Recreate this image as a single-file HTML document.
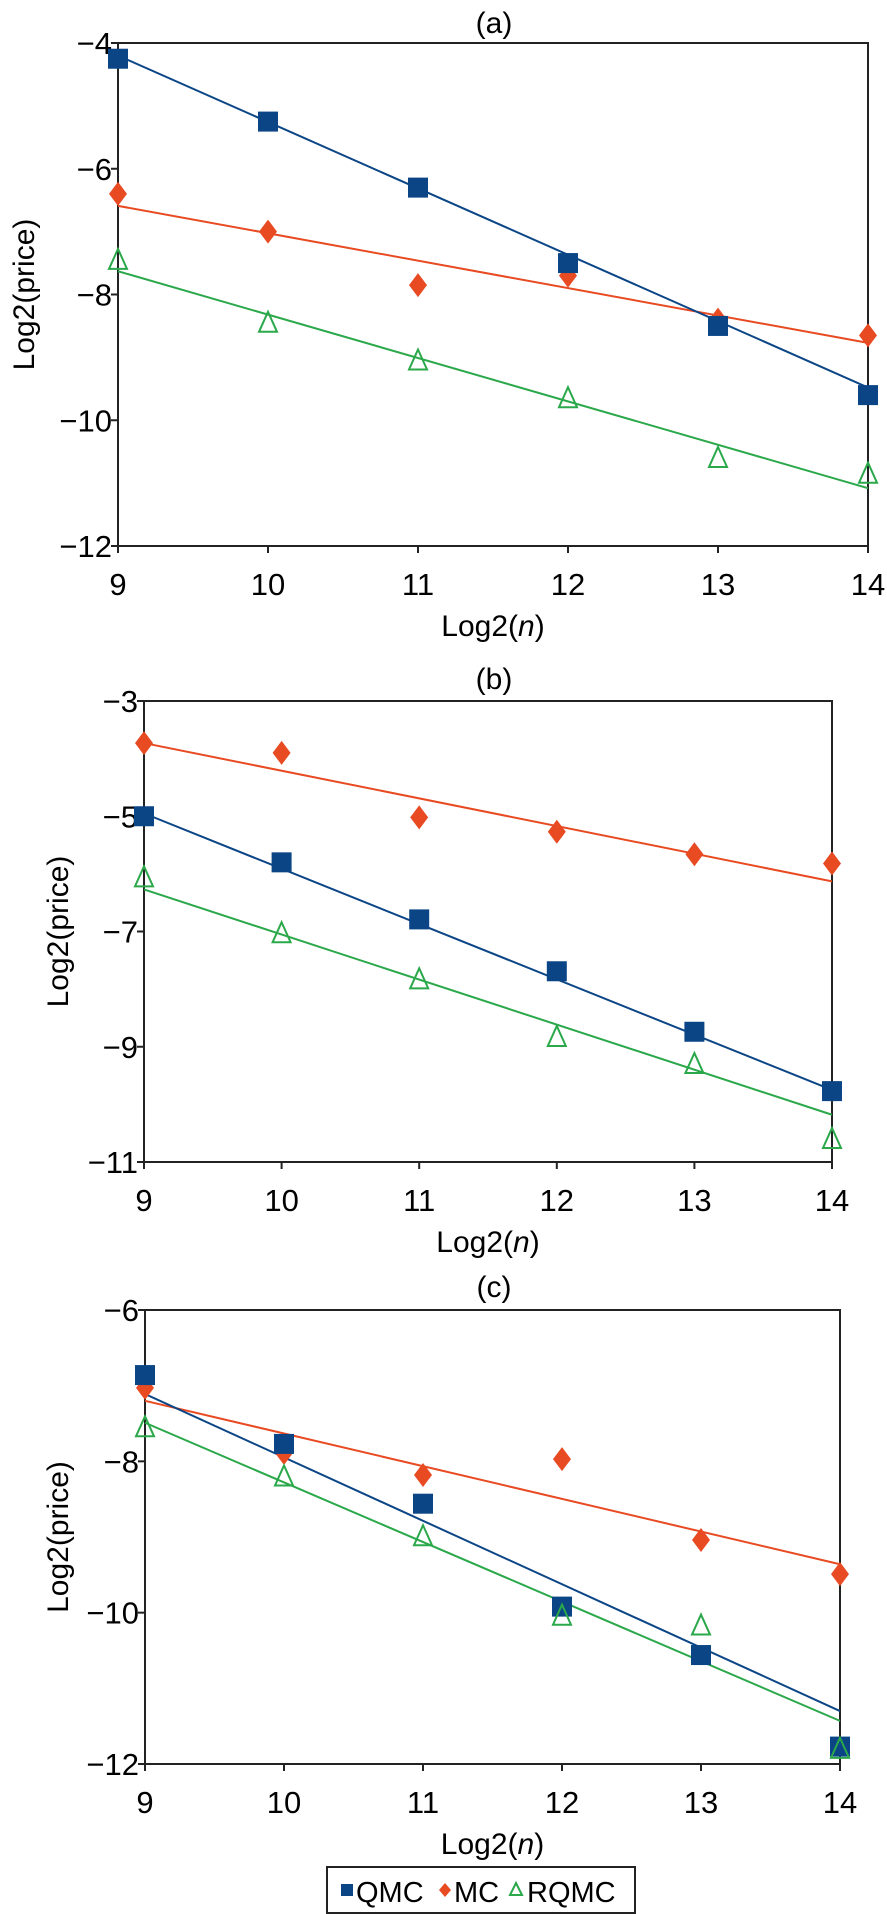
<!DOCTYPE html>
<html><head><meta charset="utf-8"><style>
html,body{margin:0;padding:0;background:#fff;}
svg{display:block;font-family:"Liberation Sans",sans-serif;}
.n{font-family:"Liberation Sans Narrow","Liberation Sans",sans-serif;}
</style></head><body>
<svg id="s" width="887" height="1914" viewBox="0 0 887 1914" xmlns="http://www.w3.org/2000/svg"></svg>
<script>
const B='#0b4586',O='#e84a22',G='#2aa84a';
let h='';
function panel(p){
 const X=v=>p.x0+(v-9)*(p.x1-p.x0)/5;
 const Y=v=>p.y0+(p.ymax-v)*(p.y1-p.y0)/(p.ymax-p.ymin);
 const cl=p.narrow?'n':'';
 h+=`<text class="${cl}" x="494" y="${p.ty}" font-size="30" text-anchor="middle">${p.t}</text>`;
 h+=`<rect x="${p.x0}" y="${p.y0}" width="${p.x1-p.x0}" height="${p.y1-p.y0}" fill="none" stroke="#222" stroke-width="2"/>`;
 for(let v=p.ymin;v<=p.ymax;v+=2){const y=Y(v);
  h+=`<line x1="${p.x0-7}" x2="${p.x0}" y1="${y}" y2="${y}" stroke="#222" stroke-width="2"/>`;
  h+=`<text class="${cl}" x="${p.x0-6}" y="${y+11}" font-size="31" text-anchor="end">\u2212${-v}</text>`;}
 for(let v=9;v<=14;v++){const x=X(v);
  h+=`<line x1="${x}" x2="${x}" y1="${p.y1}" y2="${p.y1+7}" stroke="#222" stroke-width="2"/>`;
  h+=`<text class="${cl}" x="${x}" y="${p.y1+49}" font-size="31" text-anchor="middle">${v}</text>`;}
 h+=`<text class="${cl}" x="${(p.x0+p.x1)/2}" y="${p.y1+90}" font-size="30" text-anchor="middle">Log2(<tspan font-style="italic">n</tspan>)</text>`;
 const cy=(p.y0+p.y1)/2;
 h+=`<text transform="translate(${p.lx},${cy}) rotate(-90)" font-size="30" text-anchor="middle">Log2(price)</text>`;
 const lines=[[p.gl,G],[p.ol,O],[p.bl,B]];
 for(const [l,c] of lines) h+=`<line x1="${X(9)}" y1="${Y(l[0])}" x2="${X(14)}" y2="${Y(l[1])}" stroke="${c}" stroke-width="2"/>`;
 p.o.forEach((v,i)=>{const x=X(9+i),y=Y(v);h+=`<polygon points="${x},${y-12} ${x+9},${y} ${x},${y+12} ${x-9},${y}" fill="${O}"/>`;});
 p.b.forEach((v,i)=>{const x=X(9+i),y=Y(v);h+=`<rect x="${x-10}" y="${y-10}" width="20" height="20" fill="${B}"/>`;});
 p.g.forEach((v,i)=>{const x=X(9+i),y=Y(v);h+=`<polygon points="${x},${y-11} ${x+9},${y+9} ${x-9},${y+9}" fill="none" stroke="${G}" stroke-width="2"/>`;});
}
panel({t:'(a)',ty:33,narrow:true,x0:118,x1:868,y0:43,y1:546,ymin:-12,ymax:-4,lx:34,
 b:[-4.25,-5.25,-6.3,-7.5,-8.5,-9.6],bl:[-4.2,-9.48],
 o:[-6.4,-7.0,-7.85,-7.7,-8.4,-8.65],ol:[-6.59,-8.77],
 g:[-7.45,-8.45,-9.05,-9.65,-10.6,-10.85],gl:[-7.63,-11.08]});
panel({t:'(b)',ty:689,narrow:true,x0:144,x1:832,y0:701,y1:1162,ymin:-11,ymax:-3,lx:68,
 b:[-5.0,-5.8,-6.79,-7.69,-8.74,-9.77],bl:[-4.95,-9.75],
 o:[-3.73,-3.9,-5.02,-5.27,-5.66,-5.82],ol:[-3.73,-6.13],
 g:[-6.06,-7.03,-7.83,-8.83,-9.3,-10.6],gl:[-6.27,-10.18]});
panel({t:'(c)',ty:1297,x0:145,x1:840,y0:1310,y1:1764,ymin:-12,ymax:-6,lx:68,
 b:[-6.86,-7.77,-8.56,-9.92,-10.56,-11.77],bl:[-7.11,-11.3],
 o:[-7.03,-7.89,-8.18,-7.97,-9.04,-9.49],ol:[-7.2,-9.36],
 g:[-7.55,-8.2,-8.99,-10.04,-10.17,-11.8],gl:[-7.49,-11.43]});
h+=`<rect x="327" y="1867" width="308" height="46" fill="#fff" stroke="#222" stroke-width="2"/>`;
h+=`<rect x="341" y="1884" width="12" height="12" fill="${B}"/>`;
h+=`<text x="356" y="1902" font-size="29">QMC</text>`;
h+=`<polygon points="445,1883 451,1890 445,1897 439,1890" fill="${O}"/>`;
h+=`<text x="454" y="1902" font-size="29">MC</text>`;
h+=`<polygon points="516,1883 522,1895 510,1895" fill="none" stroke="${G}" stroke-width="2"/>`;
h+=`<text x="527" y="1902" font-size="29">RQMC</text>`;
document.getElementById('s').innerHTML=h;
</script>
</body></html>
